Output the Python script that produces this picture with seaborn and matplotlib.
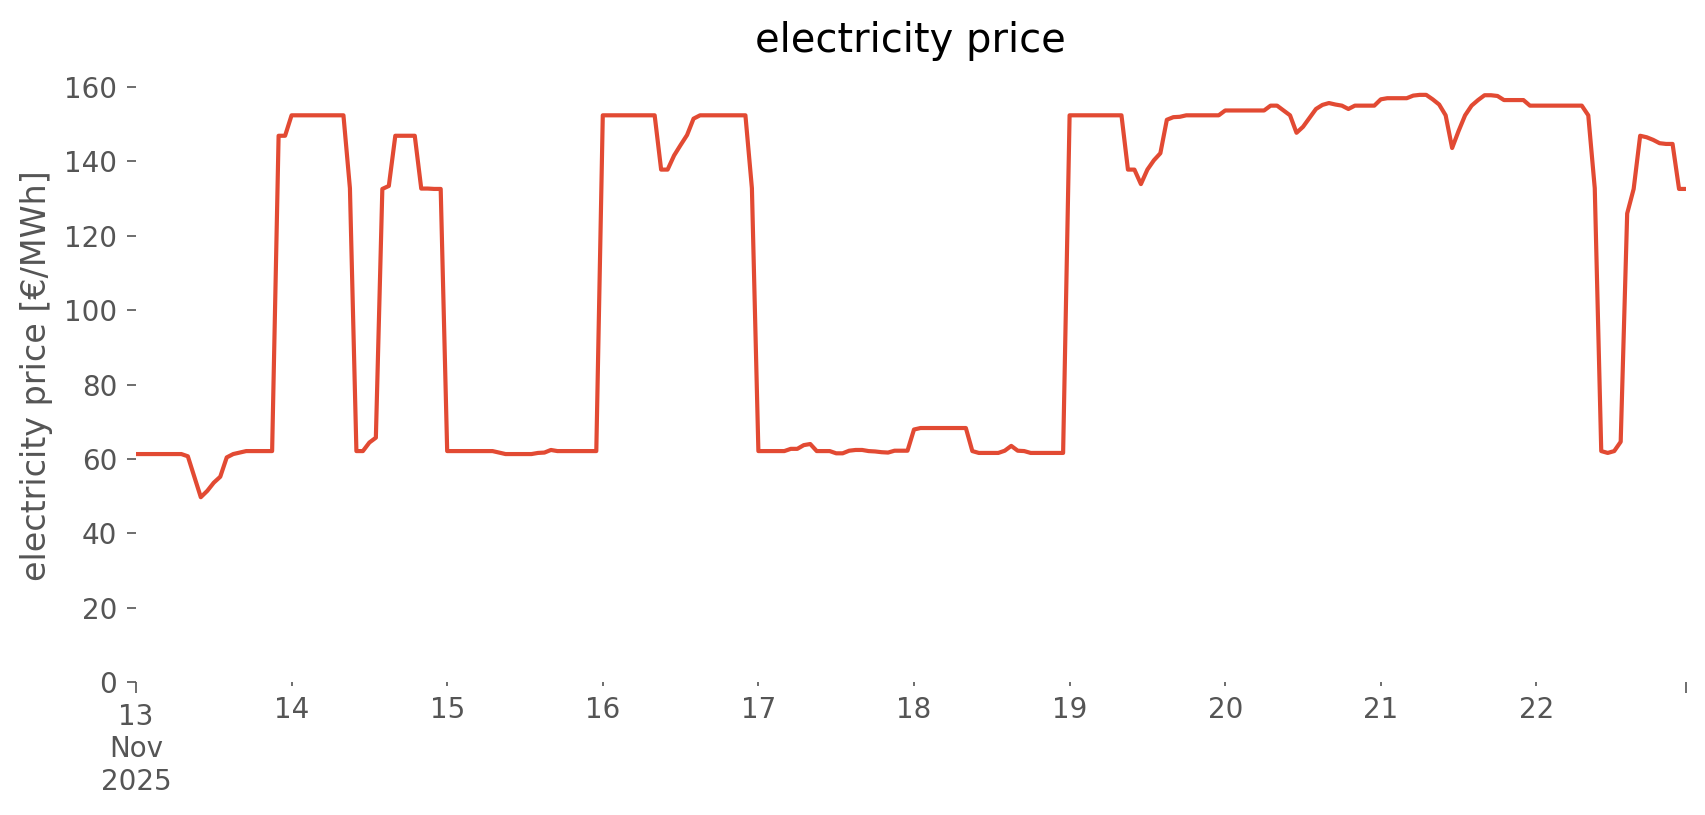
import pandas as pd
import matplotlib
matplotlib.use("Agg")
import matplotlib.pyplot as plt
import matplotlib.dates as mdates
import seaborn as sns

# hourly day-ahead price, 13-22 Nov 2025 (EUR/MWh), one list per day
day13 = [61.3, 61.3, 61.3, 61.3, 61.3, 61.3, 61.3, 61.3, 60.7, 55.2, 49.7, 51.4,
         53.6, 55.2, 60.4, 61.3, 61.7, 62.1, 62.1, 62.1, 62.1, 62.1, 146.9, 146.9]
day14 = [152.4, 152.4, 152.4, 152.4, 152.4, 152.4, 152.4, 152.4, 152.4, 132.8, 62.1, 62.1,
         64.4, 65.7, 132.6, 133.4, 146.9, 146.9, 146.9, 146.9, 132.7, 132.7, 132.6, 132.6]
day15 = [62.1, 62.1, 62.1, 62.1, 62.1, 62.1, 62.1, 62.1, 61.7, 61.3, 61.3, 61.3,
         61.3, 61.3, 61.6, 61.7, 62.4, 62.1, 62.1, 62.1, 62.1, 62.1, 62.1, 62.1]
day16 = [152.4, 152.4, 152.4, 152.4, 152.4, 152.4, 152.4, 152.4, 152.4, 137.8, 137.8, 141.6,
         144.4, 147.1, 151.5, 152.4, 152.4, 152.4, 152.4, 152.4, 152.4, 152.4, 152.4, 132.8]
day17 = [62.1, 62.1, 62.1, 62.1, 62.1, 62.7, 62.7, 63.7, 64.0, 62.1, 62.1, 62.1,
         61.5, 61.5, 62.2, 62.4, 62.4, 62.1, 62.0, 61.8, 61.7, 62.2, 62.2, 62.2]
day18 = [67.9, 68.3, 68.3, 68.3, 68.3, 68.3, 68.3, 68.3, 68.3, 62.1, 61.6, 61.6,
         61.6, 61.6, 62.2, 63.5, 62.2, 62.1, 61.6, 61.6, 61.6, 61.6, 61.6, 61.6]
day19 = [152.4, 152.4, 152.4, 152.4, 152.4, 152.4, 152.4, 152.4, 152.4, 137.8, 137.8, 133.9,
         137.8, 140.3, 142.2, 151.2, 151.9, 152.0, 152.4, 152.4, 152.4, 152.4, 152.4, 152.4]
day20 = [153.7, 153.7, 153.7, 153.7, 153.7, 153.7, 153.7, 155.0, 155.0, 153.7, 152.4, 147.7,
         149.3, 151.7, 154.1, 155.2, 155.7, 155.3, 155.0, 154.1, 155.0, 155.0, 155.0, 155.0]
day21 = [156.7, 157.0, 157.0, 157.0, 157.0, 157.7, 157.9, 157.9, 156.7, 155.3, 152.4, 143.6,
         148.2, 152.4, 155.0, 156.5, 157.8, 157.8, 157.6, 156.5, 156.5, 156.5, 156.5, 155.0]
day22 = [155.0, 155.0, 155.0, 155.0, 155.0, 155.0, 155.0, 155.0, 152.4, 132.8, 62.1, 61.6,
         62.1, 64.6, 126.0, 132.6, 146.9, 146.5, 145.8, 144.9, 144.7, 144.7, 132.6, 132.6]

day_labels = ["13\nNov\n2025", "14", "15", "16", "17", "18", "19", "20", "21", "22"]

prices = day13 + day14 + day15 + day16 + day17 + day18 + day19 + day20 + day21 + day22
times = pd.date_range("2025-11-13 00:00", periods=len(prices), freq="h")
df = pd.DataFrame({"time": times, "price": prices})

sns.set_style("white")
grey = "#555555"

fig = plt.figure(figsize=(8.53, 4.075), dpi=200)
ax = fig.add_axes([0.0797, 0.1632, 0.9083, 0.7528])

sns.lineplot(data=df, x="time", y="price", ax=ax, color="#E24A33", linewidth=1.5)

ax.set_xlim(times[0], times[-1])
ax.set_ylim(0, 165)
ax.set_yticks(range(0, 161, 20))

days = pd.date_range("2025-11-13", periods=10, freq="D")
ax.set_xticks([mdates.date2num(times[0]), mdates.date2num(times[-1])],
              [day_labels[0], ""])
ax.set_xticks(mdates.date2num(days[1:]), day_labels[1:], minor=True)

ax.tick_params(axis="both", which="both", colors=grey, labelsize=10, direction="out")
ax.tick_params(axis="x", which="major", length=4, width=0.6, bottom=True)
ax.tick_params(axis="x", which="minor", length=1.5, width=0.6, bottom=True)
ax.tick_params(axis="y", which="major", length=3.2, width=0.6, left=True)

for s in ax.spines.values():
    s.set_visible(False)

ax.set_xlabel("")
ax.set_ylabel("electricity price [€/MWh]", fontsize=12, color=grey)
ax.set_title("electricity price", fontsize=14.4, color="black")

fig.savefig("out.png", dpi=200, facecolor="white")
